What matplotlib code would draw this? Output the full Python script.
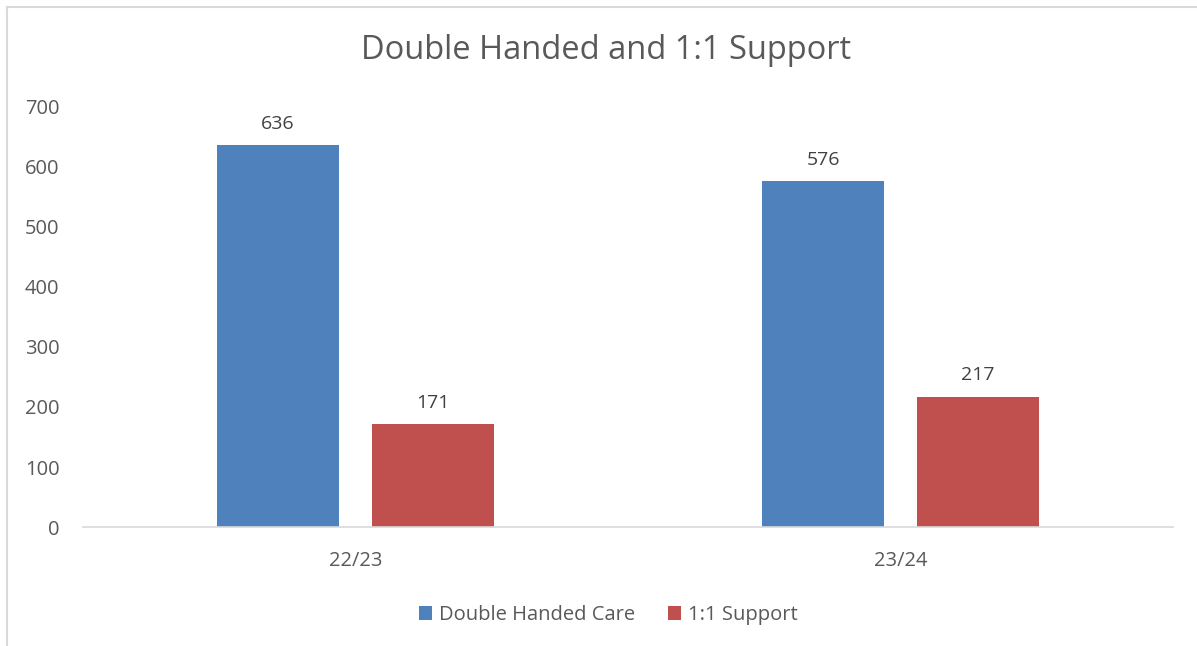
import numpy as np
import matplotlib.pyplot as plt
from matplotlib.lines import Line2D

categories = ['22/23', '23/24']
double_handed = [636, 576]
one_to_one = [171, 217]
series_names = ['Double Handed Care', '1:1 Support']

plt.rcParams['font.family'] = ['Open Sans', 'DejaVu Sans']
txt = '#595959'

fig = plt.figure(figsize=(11.97, 6.46), dpi=100)
ax = fig.add_axes([0.0693, 0.1842, 0.9107, 0.6502])

x = np.arange(len(categories))
w = 0.224
off = 0.142
b1 = ax.bar(x - off, double_handed, w, color='#4F81BD', label=series_names[0])
b2 = ax.bar(x + off, one_to_one, w, color='#C0504D', label=series_names[1])

for bars in (b1, b2):
    for r in bars:
        ax.annotate(str(int(r.get_height())), (r.get_x() + r.get_width() / 2, r.get_height()),
                    xytext=(0, 9), textcoords='offset points', ha='center', va='bottom',
                    fontsize=14, color='#404040')

ax.set_xlim(-0.5, 1.5)
ax.set_ylim(0, 700)
ax.set_yticks(range(0, 701, 100))
ax.set_xticks(x)
ax.set_xticklabels(categories)
ax.tick_params(axis='both', length=0, labelsize=14.5, colors=txt)
ax.tick_params(axis='y', pad=17)
ax.tick_params(axis='x', pad=17)
for s in ['top', 'right', 'left']:
    ax.spines[s].set_visible(False)
ax.spines['bottom'].set_color('#D9D9D9')
ax.spines['bottom'].set_linewidth(1.2)

fig.text(0.506, 0.922, 'Double Handed and 1:1 Support', ha='center', va='center',
         fontsize=23.5, color=txt)

ax.legend(loc='center', bbox_to_anchor=(0.482, -0.21), ncol=2, frameon=False,
          fontsize=14.5, labelcolor=txt, handlelength=0.65, handleheight=0.65,
          handletextpad=0.35, columnspacing=1.6)

# outer chart border (only top/left visible in the crop)
fig.add_artist(Line2D([0.006, 0.006], [0, 0.989], transform=fig.transFigure, color='#D9D9D9', lw=1.5))
fig.add_artist(Line2D([0.006, 1], [0.989, 0.989], transform=fig.transFigure, color='#D9D9D9', lw=1.5))

fig.savefig('out.png', dpi=100)
